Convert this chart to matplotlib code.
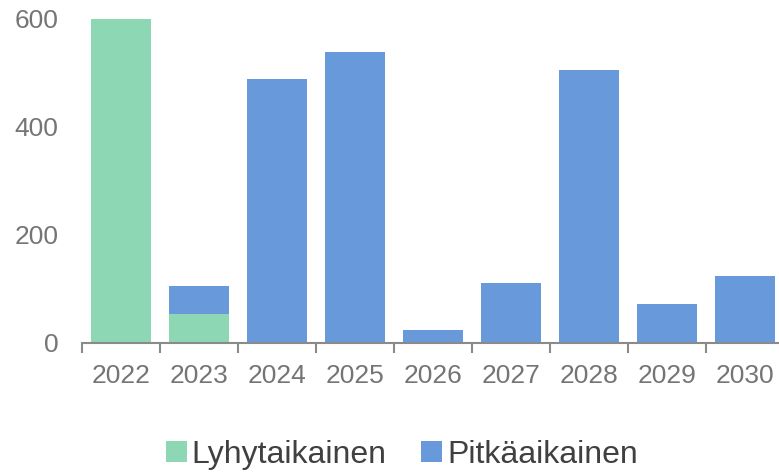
import matplotlib
matplotlib.use("Agg")
import matplotlib.pyplot as plt
from matplotlib.patches import Patch
import numpy as np

years = ["2022", "2023", "2024", "2025", "2026", "2027", "2028", "2029", "2030"]
lyhyt = [600, 53, 0, 0, 0, 0, 0, 0, 0]
pitka = [0, 53, 489, 539, 24, 110, 505, 72, 123]
series_names = ["Lyhytaikainen", "Pitkäaikainen"]
yticks = [0, 200, 400, 600]

green = "#8DD7B4"
blue = "#6899DA"
tickcol = "#757575"
axcol = "#8A8A8A"

plt.rcParams["font.family"] = ["Liberation Sans", "DejaVu Sans"]

fig = plt.figure(figsize=(7.79, 4.73), dpi=100)
ax = fig.add_axes([82/779, 1 - 342.7/473, (784 - 82)/779, (342.7 - 19)/473])

x = np.arange(len(years))
w = 0.77
ax.bar(x, lyhyt, width=w, color=green, edgecolor="none")
ax.bar(x, pitka, width=w, bottom=lyhyt, color=blue, edgecolor="none")

ax.set_xlim(-0.5, len(years) - 0.5)
ax.set_ylim(0, 600)
ax.set_yticks(yticks)
ax.set_yticklabels([str(v) for v in yticks])
ax.set_xticks(x)
ax.set_xticklabels(years)
ax.set_xticks(np.arange(len(years) + 1) - 0.5, minor=True)

for s in ["top", "right", "left"]:
    ax.spines[s].set_visible(False)
ax.spines["bottom"].set_color(axcol)
ax.spines["bottom"].set_linewidth(1.5)

ax.tick_params(axis="y", length=0, pad=17, labelsize=19, labelcolor=tickcol)
ax.tick_params(axis="x", which="major", length=0, pad=15, labelsize=19, labelcolor=tickcol)
ax.tick_params(axis="x", which="minor", length=7, width=1.5, color=axcol, direction="out")

handles = [Patch(facecolor=green, edgecolor="none"), Patch(facecolor=blue, edgecolor="none")]
fig.legend(handles, series_names, loc="center", bbox_to_anchor=(402/779, 1 - 455/473),
           ncol=2, frameon=False, fontsize=23, handlelength=0.65, handleheight=0.65,
           handletextpad=0.15, columnspacing=1.08, labelcolor="#404040")

fig.savefig("out.png", dpi=100)
